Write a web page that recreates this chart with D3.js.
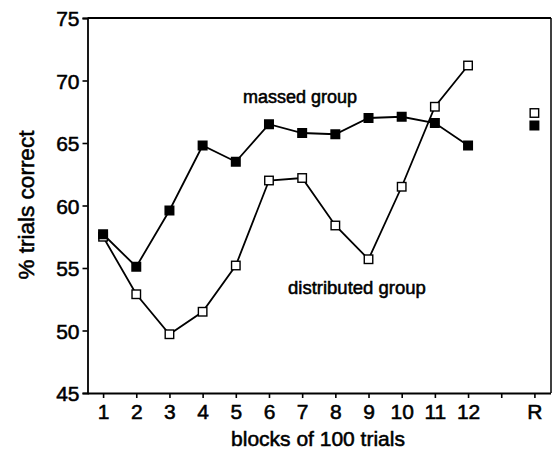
<!DOCTYPE html>
<html>
<head>
<meta charset="utf-8">
<script src="https://cdn.jsdelivr.net/npm/d3@7"></script>
<style>
  html, body { margin: 0; padding: 0; background: #fff; }
  svg { display: block; }
  text { font-family: "Liberation Sans", Arial, Helvetica, sans-serif; fill: #000; stroke: #000; stroke-width: 0.55px; }
</style>
</head>
<body>
<svg id="chart" width="552" height="450"></svg>
<script>
// ---- data ----
const blocks = [1, 2, 3, 4, 5, 6, 7, 8, 9, 10, 11, 12];
const massed = [57.7, 55.1, 59.6, 64.8, 63.5, 66.5, 65.8, 65.7, 67.0, 67.1, 66.6, 64.8];
const distributed = [57.5, 52.9, 49.7, 51.5, 55.2, 62.0, 62.2, 58.4, 55.7, 61.5, 67.9, 71.2];
const retentionPos = 14;
const retentionMassed = 66.4;
const retentionDistributed = 67.4;
const xTickValues = [1, 2, 3, 4, 5, 6, 7, 8, 9, 10, 11, 12, 13, 14];
const xTickLabels = ["1", "2", "3", "4", "5", "6", "7", "8", "9", "10", "11", "12", "", "R"];
const yTickValues = [45, 50, 55, 60, 65, 70, 75];
const xTitle = "blocks of 100 trials";
const yTitle = "% trials correct";
const massedLabel = "massed group";
const distributedLabel = "distributed group";

// ---- layout ----
const svg = d3.select("#chart");
const mLeft = 87.5, mRight = 551, mTop = 18, mBottom = 393;

const x = d3.scaleLinear().domain([0.5, 14.5]).range([mLeft - 1, mRight]);
const y = d3.scaleLinear().domain([45, 75]).range([mBottom, mTop]);

// frame (top and right)
svg.append("line").attr("x1", mLeft).attr("x2", mRight).attr("y1", mTop).attr("y2", mTop)
  .attr("stroke", "#000").attr("stroke-width", 2);
svg.append("line").attr("x1", mRight).attr("x2", mRight).attr("y1", mTop).attr("y2", mBottom)
  .attr("stroke", "#000").attr("stroke-width", 1.5);

// y axis
const yAxis = svg.append("g").attr("transform", `translate(${mLeft},0)`)
  .call(d3.axisLeft(y).tickValues(yTickValues).tickSize(5).tickPadding(3).tickFormat(d3.format("d")));
yAxis.select(".domain").attr("stroke-width", 1.8);
yAxis.selectAll(".tick line").attr("stroke-width", 1.6);
yAxis.selectAll("text").style("font-size", "21px").attr("dy", "0.36em");

// x axis
const xAxis = svg.append("g").attr("transform", `translate(0,${mBottom})`)
  .call(d3.axisBottom(x).tickValues(xTickValues).tickSize(5).tickPadding(6)
    .tickFormat((d, i) => xTickLabels[i]));
xAxis.select(".domain").attr("d", `M${mLeft},0.5H${mRight}`).attr("stroke-width", 1.8);
xAxis.selectAll(".tick line").attr("stroke-width", 1.6);
xAxis.selectAll("text").style("font-size", "21px");
svg.selectAll(".tick text").attr("fill", "#000");
svg.selectAll(".domain, .tick line").attr("stroke", "#000");

// titles
svg.append("text").attr("x", 318).attr("y", 446).attr("text-anchor", "middle")
  .style("font-size", "21px").text(xTitle);
svg.append("text").attr("transform", "translate(34,205) rotate(-90)").attr("text-anchor", "middle")
  .style("font-size", "22.5px").text(yTitle);

// lines
const line = d3.line().x((d, i) => x(blocks[i])).y(d => y(d));
svg.append("path").datum(distributed).attr("d", line)
  .attr("fill", "none").attr("stroke", "#000").attr("stroke-width", 1.8);
svg.append("path").datum(massed).attr("d", line)
  .attr("fill", "none").attr("stroke", "#000").attr("stroke-width", 1.8);

// markers
const openPts = distributed.map((v, i) => [blocks[i], v]).concat([[retentionPos, retentionDistributed]]);
const filledPts = massed.map((v, i) => [blocks[i], v]).concat([[retentionPos, retentionMassed]]);
const so = 8.5, sf = 10;
svg.append("g").selectAll("rect").data(openPts).join("rect")
  .attr("x", d => x(d[0]) - so / 2).attr("y", d => y(d[1]) - so / 2)
  .attr("width", so).attr("height", so)
  .attr("fill", "#fff").attr("stroke", "#000").attr("stroke-width", 1.4);
svg.append("g").selectAll("rect").data(filledPts).join("rect")
  .attr("x", d => x(d[0]) - sf / 2).attr("y", d => y(d[1]) - sf / 2)
  .attr("width", sf).attr("height", sf).attr("fill", "#000");

// annotations
svg.append("text").attr("x", 243).attr("y", 103).style("font-size", "18px").text(massedLabel);
svg.append("text").attr("x", 288).attr("y", 294).style("font-size", "18.5px").text(distributedLabel);
</script>
</body>
</html>
